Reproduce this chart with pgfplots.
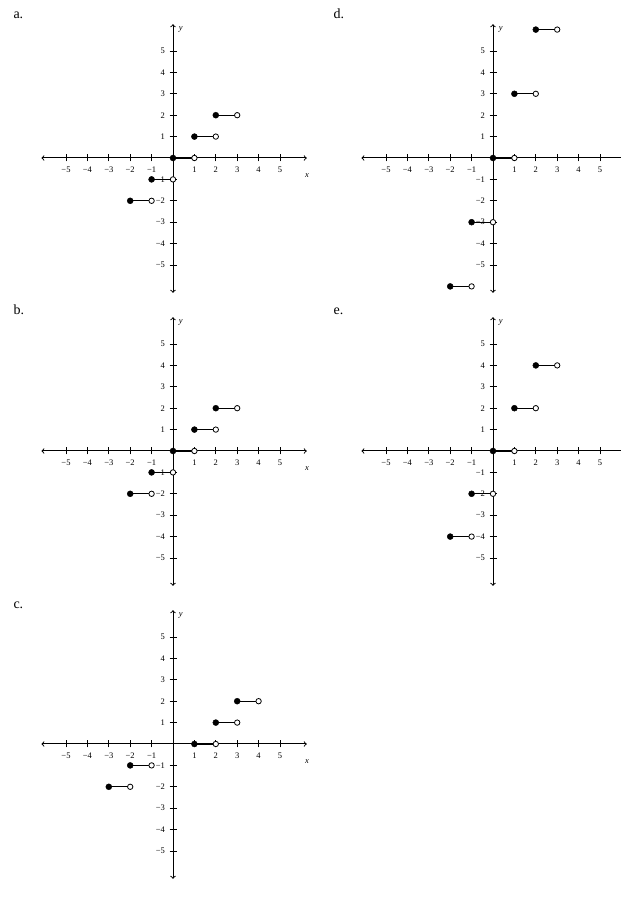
\documentclass[border=0pt]{standalone}
\usepackage{fontspec}
\setmainfont{Liberation Serif}
\usepackage{pgfplots}
\pgfplotsset{compat=1.18}

% one style shared by the five step-function panels
\pgfplotsset{
  steppanel/.style={
    x=21.4pt, y=21.4pt,
    anchor=origin,
    axis lines=middle,
    axis line style={<->, line width=1pt},
    xmin=-6.15, xmax=6.25, ymin=-6.3, ymax=6.25,
    xtick={-5,-4,-3,-2,-1,1,2,3,4,5},
    ytick={-5,-4,-3,-2,-1,1,2,3,4,5},
    xticklabels={−5,−4,−3,−2,−1,1,2,3,4,5},
    yticklabels={−5,−4,−3,−2,−1,1,2,3,4,5},
    tick align=center,
    major tick length=7pt,
    tick style={black, line width=0.8pt},
    tick label style={font=\fontsize{8.5}{9}\selectfont},
    xticklabel style={yshift=-2pt},
    yticklabel style={xshift=-1pt},
    unbounded coords=jump,
    axis on top,
    clip=false,
  },
  seg/.style={black, line width=0.8pt, mark=none},
  closed/.style={only marks, mark=*, mark size=3pt, black},
  open/.style={only marks, mark=*, mark size=2.7pt,
               mark options={draw=black, fill=white, line width=0.8pt}},
}
\newcommand{\yname}{%
  \node[font=\fontsize{8.5}{9}\itshape] at (axis cs:0.36,6.0) {y};}
\newcommand{\xname}{%
  \node[font=\fontsize{8.5}{9}\itshape] at (axis cs:6.26,-0.8) {x};}

\begin{document}
\begin{tikzpicture}
\useasboundingbox (0,0) rectangle (621pt,903pt);

\node[anchor=base west, font=\fontsize{14}{16}\selectfont] at (10pt,884pt) {a.};
\node[anchor=base west, font=\fontsize{14}{16}\selectfont] at (10pt,588pt) {b.};
\node[anchor=base west, font=\fontsize{14}{16}\selectfont] at (10pt,294pt) {c.};
\node[anchor=base west, font=\fontsize{14}{16}\selectfont] at (330pt,884pt) {d.};
\node[anchor=base west, font=\fontsize{14}{16}\selectfont] at (330pt,588pt) {e.};

% a.
\begin{axis}[steppanel, at={(173pt,745pt)}]
  \addplot[seg] coordinates {(-2,-2) (-1,-2) (nan,nan) (-1,-1) (0,-1) (nan,nan)
    (0,0) (1,0) (nan,nan) (1,1) (2,1) (nan,nan) (2,2) (3,2)};
  \addplot[closed] coordinates {(-2,-2) (-1,-1) (0,0) (1,1) (2,2)};
  \addplot[open] coordinates {(-1,-2) (0,-1) (1,0) (2,1) (3,2)};
  \yname \xname
\end{axis}

% b.
\begin{axis}[steppanel, at={(173pt,452pt)}]
  \addplot[seg] coordinates {(-2,-2) (-1,-2) (nan,nan) (-1,-1) (0,-1) (nan,nan)
    (0,0) (1,0) (nan,nan) (1,1) (2,1) (nan,nan) (2,2) (3,2)};
  \addplot[closed] coordinates {(-2,-2) (-1,-1) (0,0) (1,1) (2,2)};
  \addplot[open] coordinates {(-1,-2) (0,-1) (1,0) (2,1) (3,2)};
  \yname \xname
\end{axis}

% c.
\begin{axis}[steppanel, at={(173pt,159pt)}]
  \addplot[seg] coordinates {(-3,-2) (-2,-2) (nan,nan) (-2,-1) (-1,-1) (nan,nan)
    (1,0) (2,0) (nan,nan) (2,1) (3,1) (nan,nan) (3,2) (4,2)};
  \addplot[closed] coordinates {(-3,-2) (-2,-1) (1,0) (2,1) (3,2)};
  \addplot[open] coordinates {(-2,-2) (-1,-1) (2,0) (3,1) (4,2)};
  \yname \xname
\end{axis}

% d. (x axis runs off the right edge, as in the scan)
\begin{axis}[steppanel, at={(493pt,745pt)}]
  \addplot[seg] coordinates {(-2,-6) (-1,-6) (nan,nan) (-1,-3) (0,-3) (nan,nan)
    (0,0) (1,0) (nan,nan) (1,3) (2,3) (nan,nan) (2,6) (3,6)};
  \addplot[closed] coordinates {(-2,-6) (-1,-3) (0,0) (1,3) (2,6)};
  \addplot[open] coordinates {(-1,-6) (0,-3) (1,0) (2,3) (3,6)};
  \yname
\end{axis}

% e.
\begin{axis}[steppanel, at={(493pt,452pt)}]
  \addplot[seg] coordinates {(-2,-4) (-1,-4) (nan,nan) (-1,-2) (0,-2) (nan,nan)
    (0,0) (1,0) (nan,nan) (1,2) (2,2) (nan,nan) (2,4) (3,4)};
  \addplot[closed] coordinates {(-2,-4) (-1,-2) (0,0) (1,2) (2,4)};
  \addplot[open] coordinates {(-1,-4) (0,-2) (1,0) (2,2) (3,4)};
  \yname
\end{axis}

\end{tikzpicture}
\end{document}
